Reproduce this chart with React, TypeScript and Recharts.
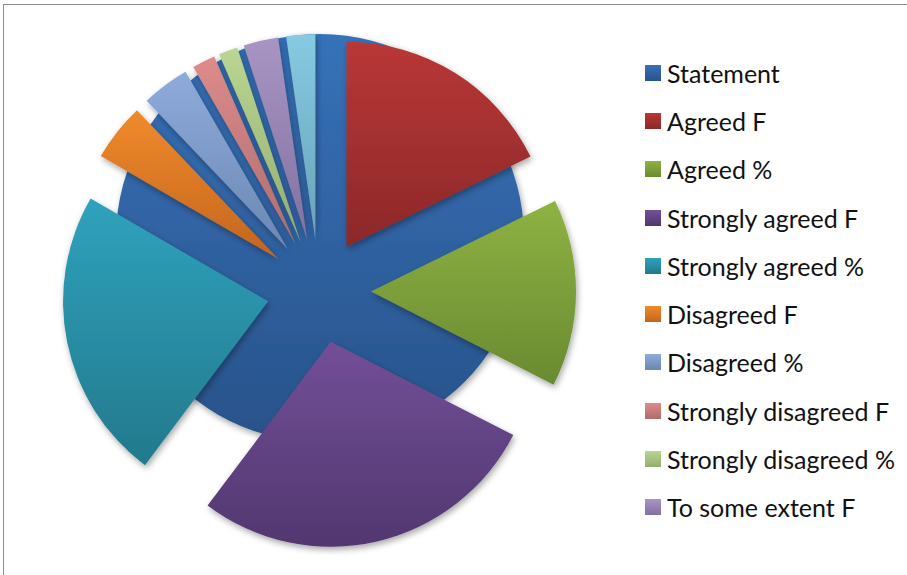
import { PieChart, Pie, Cell, Sector, Legend } from "recharts";

const categories = [
  "Statement",
  "Agreed F",
  "Agreed %",
  "Strongly agreed F",
  "Strongly agreed %",
  "Disagreed F",
  "Disagreed %",
  "Strongly disagreed F",
  "Strongly disagreed %",
  "To some extent F",
  "To some extent %",
];

// first row only carries the statement number, so it fills the whole disc
const statementRow = [1, 0, 0, 0, 0, 0, 0, 0, 0, 0, 0];
// second row: the answers (frequency and percent)
const responseRow = [0, 39, 32.5, 61, 50.8, 10, 8.3, 4, 3.3, 6, 5];

// excel-ish palette, [top, bottom] of the gradient
const colors = [
  ["#3672b9", "#29528a"],
  ["#b93737", "#8c2828"],
  ["#8fb243", "#698a30"],
  ["#734f98", "#51376f"],
  ["#2fa2bd", "#23798c"],
  ["#f08a2c", "#c3651d"],
  ["#8eabdc", "#6b87b2"],
  ["#dc8c8b", "#b06c6b"],
  ["#bad692", "#93ad6f"],
  ["#a895c4", "#8270a0"],
  ["#86cae2", "#68a3b8"],
];

const legendItems = categories.slice(0, 10);

const statementData = categories.map((name, i) => ({ name, value: statementRow[i] }));
const responseData = categories.map((name, i) => ({ name, value: responseRow[i] }));

const EXPLODE = 52;

function ExplodedSlice(props: any) {
  const { cx, cy, innerRadius, outerRadius, startAngle, endAngle, midAngle, index } = props;
  if (Math.abs(endAngle - startAngle) < 0.01) return null;
  const rad = Math.PI / 180;
  const dx = EXPLODE * Math.cos(-midAngle * rad);
  const dy = EXPLODE * Math.sin(-midAngle * rad);
  return (
    <Sector
      cx={cx + dx}
      cy={cy + dy}
      innerRadius={innerRadius}
      outerRadius={outerRadius}
      startAngle={startAngle}
      endAngle={endAngle}
      fill={`url(#grad-${index})`}
      stroke="none"
      filter="url(#shadow)"
    />
  );
}

function LegendList() {
  return (
    <div style={{ fontFamily: "Lato, sans-serif", fontSize: 25, color: "#111" }}>
      {legendItems.map((name, i) => (
        <div key={name} style={{ height: 48.3, display: "flex", alignItems: "center" }}>
          <span
            style={{
              width: 16,
              height: 16,
              marginRight: 6,
              background: `linear-gradient(${colors[i][0]}, ${colors[i][1]})`,
              display: "inline-block",
            }}
          />
          <span style={{ whiteSpace: "nowrap" }}>{name}</span>
        </div>
      ))}
    </div>
  );
}

export default function App() {
  return (
    <div style={{ position: "fixed", left: 0, top: 0, width: 907, height: 575, background: "#fff" }}>
      <div
        style={{
          position: "absolute",
          left: 3,
          top: 4,
          width: 920,
          height: 600,
          borderLeft: "1.5px solid #8c8c8c",
          borderTop: "1.5px solid #8c8c8c",
        }}
      />
      <div style={{ position: "absolute", left: 0, top: 0 }}>
        <PieChart width={907} height={575} margin={{ top: 0, right: 0, bottom: 0, left: 0 }}>
          <defs>
            {colors.map((c, i) => (
              <linearGradient key={i} id={`grad-${i}`} x1="0" y1="0" x2="0" y2="1">
                <stop offset="0%" stopColor={c[0]} />
                <stop offset="100%" stopColor={c[1]} />
              </linearGradient>
            ))}
            <filter id="shadow" x="-20%" y="-20%" width="140%" height="140%">
              <feDropShadow dx="1.5" dy="3" stdDeviation="3" floodColor="#000" floodOpacity="0.35" />
            </filter>
          </defs>
          <Pie
            data={statementData}
            dataKey="value"
            nameKey="name"
            cx={320}
            cy={238}
            outerRadius={204}
            startAngle={90}
            endAngle={-270}
            stroke="none"
            isAnimationActive={false}
            style={{ filter: "url(#shadow)" }}
          >
            {statementData.map((d, i) => (
              <Cell key={d.name} fill={`url(#grad-${i})`} />
            ))}
          </Pie>
          <Pie
            data={responseData}
            dataKey="value"
            nameKey="name"
            cx={319}
            cy={291}
            outerRadius={205}
            startAngle={90}
            endAngle={-270}
            fill="none"
            stroke="none"
            labelLine={false}
            label={ExplodedSlice}
            isAnimationActive={false}
          />
          <Legend
            layout="vertical"
            align="right"
            verticalAlign="top"
            content={LegendList}
            wrapperStyle={{ left: 645, top: 48.5, width: 260 }}
          />
        </PieChart>
      </div>
    </div>
  );
}
